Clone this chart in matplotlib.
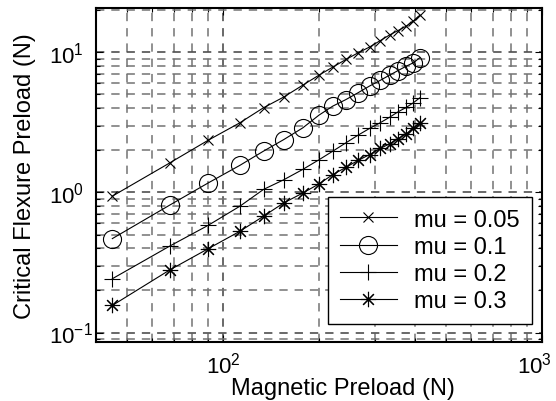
import matplotlib
matplotlib.use("Agg")
import matplotlib.pyplot as plt
from matplotlib.ticker import LogLocator, NullFormatter
from matplotlib.transforms import ScaledTranslation

plt.rcParams['font.family'] = ['Liberation Sans', 'DejaVu Sans']
plt.rcParams['mathtext.fontset'] = 'custom'
plt.rcParams['mathtext.rm'] = 'Liberation Sans'
plt.rcParams['mathtext.it'] = 'Liberation Sans'
plt.rcParams['mathtext.bf'] = 'Liberation Sans'
plt.rcParams['lines.scale_dashes'] = False

# magnetic preload (N)
preload = [45, 68, 90, 113, 134, 155, 178, 200, 221, 243, 265, 288, 311, 333, 354, 376, 395, 414]

# critical flexure preload (N) for each friction coefficient
mu005 = [0.94, 1.62, 2.36, 3.14, 4.02, 4.79, 5.83, 6.87, 7.84, 8.89, 9.9, 10.9, 12.1, 13.3, 14.3, 15.4, 16.7, 18.4]
mu01 = [0.468, 0.81, 1.17, 1.56, 1.97, 2.38, 2.89, 3.56, 4.13, 4.6, 5.14, 5.74, 6.3, 6.87, 7.41, 7.97, 8.41, 9.14]
mu02 = [0.242, 0.413, 0.583, 0.797, 1.05, 1.23, 1.46, 1.71, 1.97, 2.26, 2.56, 2.86, 3.14, 3.44, 3.76, 4.05, 4.36, 4.73]
mu03 = [0.156, 0.279, 0.397, 0.528, 0.676, 0.841, 0.99, 1.15, 1.34, 1.51, 1.69, 1.86, 2.06, 2.22, 2.42, 2.62, 2.86, 3.14]

labels = ['mu = 0.05', 'mu = 0.1', 'mu = 0.2', 'mu = 0.3']

xticks = [100, 1000]
xticklabels = ['$10^{2}$', '$10^{3}$']
yticks = [0.1, 1, 10]
yticklabels = ['$10^{-1}$', '$10^{0}$', '$10^{1}$']

fig = plt.figure(figsize=(5.56, 4.02), dpi=100)
ax = fig.add_axes([96 / 556, 1 - 342.7 / 402, 446 / 556, 333.7 / 402])

ax.loglog(preload, mu005, 'k-', marker='x', ms=7.5, mew=0.8, lw=0.8, label=labels[0])
ax.loglog(preload, mu01, 'k-', marker='o', ms=13, mfc='none', mew=0.8, lw=0.8, label=labels[1])
ax.loglog(preload, mu02, 'k-', marker='+', ms=12, mew=0.8, lw=0.8, label=labels[2])
ax.loglog(preload, mu03, 'k-', marker=(8, 2, 0), ms=11, mew=0.8, lw=0.8, label=labels[3])

ax.set_xlim(40, 1000)
ax.set_ylim(0.086, 20.7)

for axis in (ax.xaxis, ax.yaxis):
    axis.set_minor_locator(LogLocator(base=10, subs=range(2, 10)))
    axis.set_minor_formatter(NullFormatter())

ax.grid(True, which='major', linestyle=(0, (6, 5)), color='0.25', lw=1.1)
ax.grid(True, which='minor', linestyle=(0, (6, 5)), color='0.45', lw=1.1)

ax.tick_params(which='both', direction='in', top=True, right=True, labelsize=16, width=0.8)
ax.tick_params(which='major', length=5)
ax.tick_params(which='minor', length=3)
ax.tick_params(axis='y', pad=34)
ax.tick_params(axis='x', pad=7)

ax.set_xticks(xticks, xticklabels)
ax.set_yticks(yticks, yticklabels, ha='left')
# keep the 10^3 label inside the figure, as in the original
last = ax.get_xticklabels()[-1]
last.set_transform(last.get_transform() + ScaledTranslation(-0.08, 0, fig.dpi_scale_trans))

for s in ax.spines.values():
    s.set_linewidth(1.5)

ax.set_xlabel('Magnetic Preload (N)', fontsize=17)
ax.set_ylabel('Critical Flexure Preload (N)', fontsize=17)
ax.xaxis.set_label_coords(0.553, -0.107)
ax.yaxis.set_label_coords(-0.135, 0.5)

leg = ax.legend(loc='lower right', bbox_to_anchor=(0.977, 0.053), borderaxespad=0,
                fontsize=17, numpoints=1, fancybox=False, framealpha=1, edgecolor='k',
                handlelength=2.4, handletextpad=0.75, borderpad=0.5, labelspacing=0.22)
leg.get_frame().set_linewidth(1.0)

fig.savefig('out.png', dpi=100)
